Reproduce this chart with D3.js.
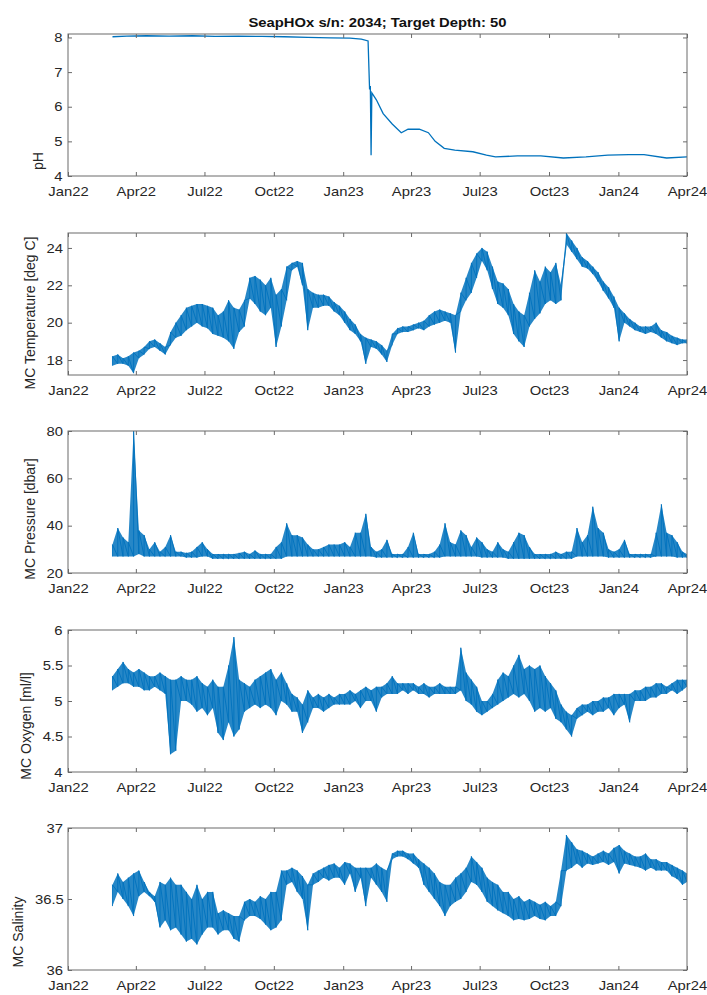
<!DOCTYPE html>
<html>
<head>
<meta charset="utf-8">
<script src="https://d3js.org/d3.v7.min.js"></script>
<style>
body { margin: 0; background: #fff; }
svg { display: block; font-family: "Liberation Sans", Arial, Helvetica, sans-serif; }
.tick line { stroke: #6a6a6a; }
.tick text { fill: #262626; font-size: 13px; }
/* the source figure is a little wider than tall, text looks stretched */
.wide { transform-box: fill-box; transform-origin: center; transform: scaleX(1.14); }
</style>
</head>
<body>
<svg id="chart"></svg>
<script>
// weekly sample dates for the moored sensor series
const weeks = [
  "2022-03-01","2022-03-08","2022-03-15","2022-03-22","2022-03-29",
  "2022-04-05","2022-04-12","2022-04-19","2022-04-26",
  "2022-05-03","2022-05-10","2022-05-17","2022-05-24","2022-05-31",
  "2022-06-07","2022-06-14","2022-06-21","2022-06-28",
  "2022-07-05","2022-07-12","2022-07-19","2022-07-26",
  "2022-08-02","2022-08-09","2022-08-16","2022-08-23","2022-08-30",
  "2022-09-06","2022-09-13","2022-09-20","2022-09-27",
  "2022-10-04","2022-10-11","2022-10-18","2022-10-25",
  "2022-11-01","2022-11-08","2022-11-15","2022-11-22","2022-11-29",
  "2022-12-06","2022-12-13","2022-12-20","2022-12-27",
  "2023-01-03","2023-01-10","2023-01-17","2023-01-24","2023-01-31",
  "2023-02-07","2023-02-14","2023-02-21","2023-02-28",
  "2023-03-07","2023-03-14","2023-03-21","2023-03-28",
  "2023-04-04","2023-04-11","2023-04-18","2023-04-25",
  "2023-05-02","2023-05-09","2023-05-16","2023-05-23","2023-05-30",
  "2023-06-06","2023-06-13","2023-06-20","2023-06-27",
  "2023-07-04","2023-07-11","2023-07-18","2023-07-25",
  "2023-08-01","2023-08-08","2023-08-15","2023-08-22","2023-08-29",
  "2023-09-05","2023-09-12","2023-09-19","2023-09-26",
  "2023-10-03","2023-10-10","2023-10-17","2023-10-24","2023-10-31",
  "2023-11-07","2023-11-14","2023-11-21","2023-11-28",
  "2023-12-05","2023-12-12","2023-12-19","2023-12-26",
  "2024-01-02","2024-01-09","2024-01-16","2024-01-23","2024-01-30",
  "2024-02-06","2024-02-13","2024-02-20","2024-02-27",
  "2024-03-05","2024-03-12","2024-03-19","2024-03-26","2024-04-01"
];

// pH is a thin line, irregular dates
const phDates = ["2022-03-01","2022-03-20","2022-04-15","2022-05-15","2022-06-15","2022-07-15","2022-08-15","2022-09-15","2022-10-15","2022-11-15",
  "2022-12-15","2023-01-10","2023-01-25","2023-02-03","2023-02-05","2023-02-06","2023-02-07","2023-02-08","2023-02-14","2023-02-23",
  "2023-03-07","2023-03-19","2023-03-28","2023-04-12","2023-04-24","2023-05-03","2023-05-15","2023-05-29","2023-06-22","2023-07-10",
  "2023-07-22","2023-08-20","2023-09-20","2023-10-20","2023-11-19","2023-12-18","2024-01-15","2024-02-04","2024-03-05","2024-04-01"];
const phValues = [8.02,8.04,8.05,8.04,8.05,8.03,8.04,8.03,8.02,8.0,
  7.99,7.98,7.95,7.9,6.5,6.6,4.6,6.4,6.2,5.8,
  5.5,5.25,5.35,5.35,5.25,5.0,4.8,4.75,4.7,4.6,
  4.55,4.58,4.58,4.52,4.55,4.6,4.62,4.62,4.52,4.55];

// weekly low / high envelope of each noisy record
const tempLow = [17.7,17.8,17.8,17.7,17.3, 18.1,18.3,18.6,18.7,18.5, 18.3,18.8,19.2,19.3,19.6, 19.8,20.0,19.8,19.7,19.4,
  19.3,19.2,19.0,18.6,19.5, 19.8,21.3,21.0,20.6,20.4, 20.8,18.7,19.8,21.2,22.8, 23.0,22.0,19.6,20.8,20.8,
  20.9,20.9,20.6,20.4,20.0, 19.6,19.4,19.0,17.8,18.7, 18.6,18.3,17.9,18.8,19.4, 19.5,19.5,19.6,19.7,19.6,
  19.8,19.9,20.0,20.1,20.0, 18.4,20.6,21.2,21.6,22.4, 23.3,22.8,21.8,21.0,20.8, 20.4,19.4,19.0,18.7,19.8,
  20.2,20.5,21.0,21.2,21.0, 21.2,24.2,23.8,23.4,23.0, 22.9,22.6,22.2,21.7,21.3, 20.8,19.0,20.0,19.8,19.6,
  19.5,19.4,19.5,19.4,19.2, 19.0,18.9,18.8,18.9,18.9];
const tempHigh = [18.2,18.3,18.1,18.2,18.4, 18.5,18.7,19.0,19.1,18.9, 18.7,19.5,20.0,20.4,20.8, 20.9,21.0,21.0,20.9,20.8,
  20.4,20.6,21.2,20.8,20.7, 21.2,22.4,22.5,22.3,22.0, 22.4,21.5,21.8,23.0,23.2, 23.3,23.2,21.8,21.6,21.5,
  21.5,21.4,21.1,20.9,20.6, 20.2,19.9,19.4,19.2,19.1, 19.0,18.8,18.5,19.4,19.7, 19.8,19.8,19.9,20.0,20.1,
  20.4,20.6,20.7,20.6,20.5, 20.4,21.6,22.4,23.2,23.7, 24.0,23.8,23.0,22.2,22.1, 21.8,21.0,20.6,20.4,21.6,
  22.8,22.2,23.0,22.7,23.2, 22.0,24.8,24.4,24.0,23.5, 23.3,23.0,22.7,22.2,21.9, 21.4,20.8,20.5,20.2,20.0,
  19.8,19.8,19.8,20.0,19.6, 19.5,19.3,19.2,19.1,19.1];

const presLow = [27,27,27,27,27, 28,27,27,27,27, 27,27,27,27,26.5, 26.5,26.5,27,27,26,
  26,26,26,26,26, 26,26,26,26,26, 26,26,26,27,27, 27,27,27,27,27,
  27,27,27,27,27, 27,27,27,27,27, 26.5,26.5,26.5,26.5,26.5, 26.5,26.5,26.5,26.5,26.5,
  26.5,26.5,26.5,27,27, 27,27,27,27,27, 26.5,26.5,26.5,26.5,26.5, 26,26,26,26,26,
  26,26,26,26,26, 26,26,26,27,27, 27,27,27,27,26.5, 26.5,26.5,26.5,26.5,26.5,
  26.5,26.5,26.5,27,27, 27,27,26.5,26.5,26.5];
const presHigh = [32,39,35,33,80, 38,36,30,33,29, 31,36,29,29,28.5, 29,31,33,30,28,
  28,28,28,28,28.5, 29,28,29.5,28,28, 28,31,33,41,36, 36,35,32,30,30,
  31,32,32,32,33, 31,37,37,45,31, 29,30,34,28,28, 28,31,37,28,28,
  28,29,32,41,33, 32,38,36,31,35, 33,30,29,33,30, 29,33,37,36,31,
  28,28,28,28,29, 28,29,29,39,33, 36,48,39,37,30, 29,30,34,28,28,
  28,28,28,37,49, 37,36,33,29,28];

const oxyLow = [5.15,5.2,5.25,5.25,5.2, 5.2,5.15,5.15,5.2,5.15, 5.1,4.25,4.3,5.0,5.0, 4.95,4.85,4.9,4.8,4.9,
  4.55,4.45,4.7,4.5,4.6, 4.85,4.9,4.95,4.9,4.95, 4.9,4.8,5.0,4.95,4.85, 4.85,4.55,4.7,4.9,4.9,
  4.85,4.9,4.95,4.95,4.95, 4.95,5.0,4.9,5.0,5.0, 4.85,5.05,5.1,5.1,5.1, 5.15,5.1,5.15,5.1,5.1,
  5.05,5.1,5.1,5.1,5.1, 5.1,5.15,5.0,4.95,4.85, 4.8,4.85,4.9,4.95,5.0, 5.05,5.1,5.05,5.1,5.0,
  4.85,4.9,4.85,4.9,4.75, 4.7,4.6,4.5,4.75,4.8, 4.85,4.8,4.85,4.85,4.9, 4.8,4.9,4.95,4.7,5.0,
  5.0,5.0,5.05,5.05,5.1, 5.1,5.15,5.1,5.15,5.2];
const oxyHigh = [5.35,5.45,5.55,5.45,5.4, 5.45,5.4,5.35,5.35,5.4, 5.35,5.3,5.3,5.35,5.3, 5.3,5.35,5.25,5.2,5.3,
  5.2,5.2,5.5,5.9,5.3, 5.25,5.2,5.3,5.35,5.4, 5.45,5.3,5.4,5.25,5.1, 5.05,4.95,5.15,5.05,5.1,
  5.05,5.1,5.05,5.1,5.1, 5.15,5.1,5.15,5.2,5.15, 5.2,5.2,5.25,5.35,5.25, 5.25,5.25,5.25,5.2,5.25,
  5.2,5.2,5.25,5.2,5.2, 5.2,5.75,5.4,5.3,5.2, 5.0,5.0,5.1,5.3,5.4, 5.35,5.5,5.65,5.45,5.5,
  5.45,5.5,5.35,5.25,5.15, 4.95,4.85,4.8,4.9,4.95, 4.95,5.0,5.0,5.05,5.05, 5.1,5.1,5.1,5.1,5.15,
  5.15,5.2,5.2,5.25,5.25, 5.2,5.25,5.3,5.3,5.3];

const salLow = [36.45,36.55,36.5,36.45,36.38, 36.52,36.55,36.52,36.48,36.3, 36.35,36.28,36.3,36.25,36.2, 36.22,36.18,36.25,36.3,36.3,
  36.25,36.28,36.28,36.22,36.2, 36.35,36.38,36.38,36.36,36.32, 36.28,36.3,36.35,36.6,36.62, 36.55,36.5,36.28,36.6,36.62,
  36.65,36.63,36.65,36.65,36.6, 36.68,36.55,36.65,36.45,36.65, 36.6,36.55,36.48,36.78,36.8, 36.8,36.78,36.75,36.72,36.6,
  36.55,36.5,36.45,36.38,36.45, 36.48,36.5,36.55,36.62,36.6, 36.55,36.48,36.45,36.42,36.4, 36.38,36.35,36.36,36.35,36.36,
  36.38,36.36,36.35,36.38,36.38, 36.45,36.7,36.72,36.75,36.72, 36.75,36.74,36.75,36.76,36.74, 36.76,36.68,36.75,36.74,36.73,
  36.72,36.7,36.72,36.7,36.7, 36.7,36.66,36.64,36.6,36.62];
const salHigh = [36.6,36.68,36.62,36.65,36.68, 36.7,36.62,36.55,36.52,36.62, 36.6,36.65,36.6,36.6,36.55, 36.5,36.6,36.5,36.55,36.55,
  36.4,36.42,36.4,36.38,36.38, 36.48,36.5,36.48,36.52,36.5, 36.55,36.55,36.7,36.7,36.72, 36.7,36.66,36.6,36.68,36.7,
  36.72,36.74,36.75,36.72,36.76, 36.75,36.72,36.72,36.72,36.72, 36.75,36.72,36.7,36.82,36.84, 36.84,36.82,36.82,36.78,36.75,
  36.72,36.68,36.62,36.6,36.6, 36.65,36.68,36.72,36.8,36.76, 36.72,36.65,36.62,36.6,36.55, 36.55,36.5,36.52,36.48,36.5,
  36.48,36.46,36.48,36.45,36.48, 36.7,36.95,36.9,36.85,36.84, 36.82,36.8,36.82,36.84,36.82, 36.86,36.88,36.84,36.82,36.8,
  36.8,36.82,36.78,36.78,36.76, 36.76,36.74,36.72,36.7,36.68];

const xTickDates = ["2022-01-01","2022-04-01","2022-07-01","2022-10-01","2023-01-01","2023-04-01","2023-07-01","2023-10-01","2024-01-01","2024-04-01"];
const xTickLabels = ["Jan22","Apr22","Jul22","Oct22","Jan23","Apr23","Jul23","Oct23","Jan24","Apr24"];

const title = "SeapHOx s/n: 2034; Target Depth: 50";
const blue = "#0072bd";

const width = 707, height = 995;
const left = 68, right = 687, top0 = 34, pitch = 198.5, panelH = 142;
const stretch = 1.14;

const parse = d3.timeParse("%Y-%m-%d");
const x = d3.scaleTime().domain([parse("2022-01-01"), parse("2024-04-01")]).range([left, right]);
const weekDates = weeks.map(parse);

const panels = [
  { label: "pH", domain: [4, 8.1], ticks: [4, 5, 6, 7, 8], dates: phDates, values: phValues, labelMid: 161 },
  { label: "MC Temperature [deg C]", domain: [17.2, 24.8], ticks: [18, 20, 22, 24], lo: tempLow, hi: tempHigh, labelMid: 313 },
  { label: "MC Pressure [dbar]", domain: [20, 80], ticks: [20, 40, 60, 80], lo: presLow, hi: presHigh, labelMid: 519 },
  { label: "MC Oxygen [ml/l]", domain: [4, 6], ticks: [4, 4.5, 5, 5.5, 6], lo: oxyLow, hi: oxyHigh, labelMid: 726 },
  { label: "MC Salinity", domain: [36, 37], ticks: [36, 36.5, 37], lo: salLow, hi: salHigh, labelMid: 932 }
];

const svg = d3.select("#chart").attr("width", width).attr("height", height);
svg.append("rect").attr("width", width).attr("height", height).attr("fill", "#fff");

svg.append("text")
  .attr("class", "wide")
  .attr("x", (left + right) / 2).attr("y", 27)
  .attr("text-anchor", "middle")
  .attr("font-size", 13).attr("font-weight", "bold").attr("fill", "#111")
  .text(title);

panels.forEach((p, i) => {
  const y0 = Math.round(top0 + i * pitch);
  const y = d3.scaleLinear().domain(p.domain).range([y0 + panelH, y0]);
  const g = svg.append("g");

  g.append("clipPath").attr("id", "clip" + i)
    .append("rect").attr("x", left).attr("y", y0).attr("width", right - left).attr("height", panelH);
  const plot = g.append("g").attr("clip-path", `url(#clip${i})`);

  if (p.values) {
    const rows = p.dates.map((d, k) => [parse(d), p.values[k]]);
    plot.append("path").datum(rows)
      .attr("fill", "none").attr("stroke", blue).attr("stroke-width", 1.3)
      .attr("d", d3.line().x(d => x(d[0])).y(d => y(d[1])));
  } else {
    const rows = weekDates.map((t, k) => ({ t, lo: p.lo[k], hi: p.hi[k] }));
    plot.append("path").datum(rows)
      .attr("fill", blue).attr("fill-opacity", 0.85)
      .attr("d", d3.area().x(d => x(d.t)).y0(d => y(d.lo)).y1(d => y(d.hi)));
    // zigzag between the low and high reading of each week, gives the hatched texture
    const zig = rows.flatMap(d => [[d.t, d.lo], [d.t, d.hi]]);
    plot.append("path").datum(zig)
      .attr("fill", "none").attr("stroke", blue).attr("stroke-width", 0.9)
      .attr("d", d3.line().x(d => x(d[0])).y(d => y(d[1])));
  }

  const xt = xTickDates.map(parse);
  g.append("g").attr("transform", `translate(0,${y0 + panelH})`)
    .call(d3.axisBottom(x).tickValues(xt).tickFormat((d, k) => xTickLabels[k]).tickSize(-4).tickPadding(11))
    .call(a => a.select(".domain").remove())
    .call(a => a.selectAll(".tick text").attr("class", "wide"));
  g.append("g").attr("transform", `translate(0,${y0})`)
    .call(d3.axisTop(x).tickValues(xt).tickFormat("").tickSize(-4))
    .call(a => a.select(".domain").remove());
  const ya = g.append("g").attr("transform", `translate(${left},0)`)
    .call(d3.axisLeft(y).tickValues(p.ticks).tickFormat(d3.format("")).tickSize(-4).tickPadding(6))
    .call(a => a.select(".domain").remove())
    .call(a => a.selectAll(".tick text").attr("class", "wide"));
  g.append("g").attr("transform", `translate(${right},0)`)
    .call(d3.axisRight(y).tickValues(p.ticks).tickFormat("").tickSize(-4))
    .call(a => a.select(".domain").remove());

  g.append("rect")
    .attr("x", left).attr("y", y0).attr("width", right - left).attr("height", panelH)
    .attr("fill", "none").attr("stroke", "#6a6a6a").attr("stroke-width", 1);

  const maxW = d3.max(ya.selectAll(".tick text").nodes(), n => n.getBBox().width) * stretch;
  const lx = left - 6 - maxW - 15;
  g.append("text")
    .attr("transform", `translate(${lx},${p.labelMid}) rotate(-90)`)
    .attr("text-anchor", "middle").attr("dy", "0.35em")
    .attr("font-size", 14).attr("fill", "#262626")
    .text(p.label);
});
</script>
</body>
</html>
